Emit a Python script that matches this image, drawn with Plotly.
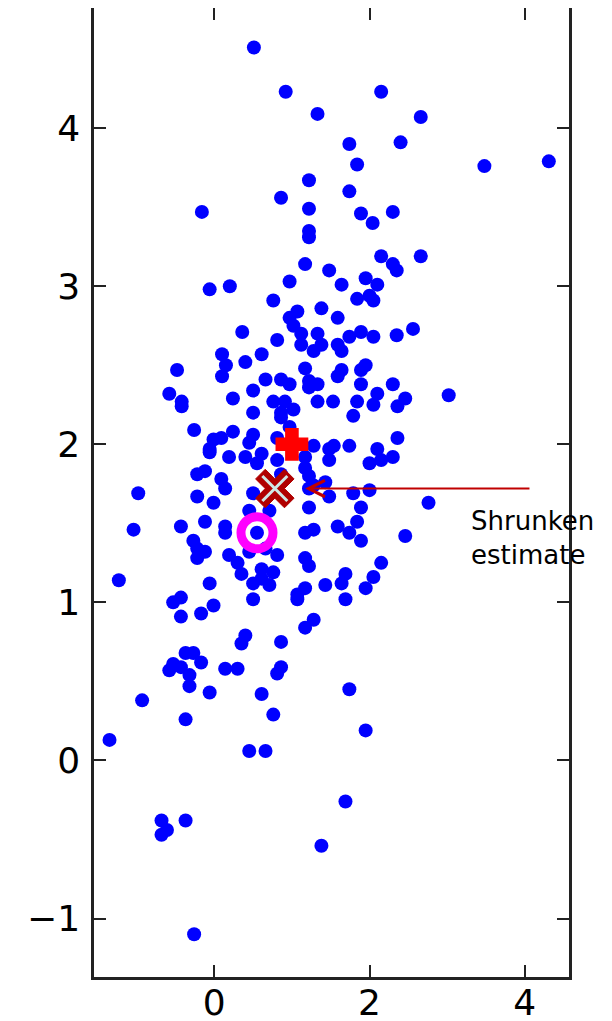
import plotly.graph_objects as go

# Sample points
pts = [
    (0.51,4.51),(0.92,4.23),(2.15,4.23),(1.33,4.09),(2.66,4.07),(1.74,3.90),(2.40,3.91),(1.84,3.77),(3.48,3.76),(4.31,3.79),
    (1.22,3.67),(1.74,3.60),(0.86,3.56),(-0.16,3.47),(1.22,3.49),(1.89,3.46),(2.30,3.47),(2.04,3.40),(1.22,3.35),(1.22,3.31),
    (2.15,3.19),(2.66,3.19),(1.17,3.14),(2.30,3.14),(2.35,3.10),(1.48,3.10),(0.97,3.03),(1.95,3.05),(1.64,3.01),(2.10,3.01),
    (-0.06,2.98),(0.20,3.00),(2.00,2.94),(1.84,2.92),(2.05,2.91),(0.76,2.91),(1.38,2.86),(1.07,2.84),(0.97,2.80),(1.59,2.80),
    (1.02,2.75),(2.56,2.73),(0.36,2.71),
    (0.81,2.66),(1.12,2.70),(1.33,2.70),(1.74,2.68),(1.89,2.71),(2.05,2.68),(2.35,2.69),(1.12,2.63),(1.38,2.63),(1.59,2.63),
    (1.28,2.59),(1.64,2.59),(0.10,2.57),(0.61,2.57),(0.15,2.50),(0.40,2.52),(1.95,2.50),(1.17,2.48),(1.64,2.47),(1.89,2.47),
    (-0.48,2.47),(0.10,2.43),(1.59,2.43),(0.66,2.41),(0.86,2.41),(0.97,2.38),(1.22,2.40),(1.33,2.38),(1.22,2.36),(1.89,2.38),
    (2.30,2.38),(0.50,2.34),(2.10,2.32),(-0.58,2.32),(3.02,2.31),(2.46,2.29),(0.24,2.29),(-0.42,2.27),(0.76,2.27),(0.91,2.27),
    (1.33,2.27),(1.53,2.27),(1.84,2.27),(2.05,2.25),(-0.42,2.24),(2.36,2.24),(1.02,2.22),(0.50,2.20),(0.86,2.20),(1.79,2.18),
    (0.86,2.17),(0.97,2.11),(-0.26,2.09),(0.24,2.08),(0.50,2.06),(-0.01,2.03),(0.09,2.04),(0.45,2.01),(0.81,2.04),(2.36,2.04),
    (1.28,1.99),(1.48,1.97),(1.54,1.99),(1.74,1.99),(2.10,1.97),(-0.06,1.97),(-0.06,1.95),(0.19,1.92),(0.40,1.92),(0.61,1.94),
    (0.55,1.88),(0.81,1.90),(1.17,1.92),(1.48,1.90),(2.00,1.88),(2.15,1.90),(2.30,1.92),(1.17,1.85),(-0.12,1.83),(-0.22,1.81),
    (0.09,1.78),(0.86,1.81),(1.22,1.80),(0.14,1.72),(1.28,1.74),(1.43,1.76),(-0.98,1.69),(-0.22,1.67),(0.50,1.69),(1.22,1.72),
    (2.00,1.71),(1.48,1.67),(1.79,1.69),
    (2.76,1.63),(-0.01,1.63),(1.22,1.60),(1.89,1.60),(0.45,1.58),(0.71,1.58),(-0.12,1.51),(1.84,1.51),(-1.04,1.46),(-0.43,1.48),
    (0.14,1.48),(0.14,1.44),(1.17,1.44),(1.28,1.46),(1.59,1.48),(1.74,1.44),(2.46,1.42),(0.55,1.44),(1.89,1.39),(-0.27,1.39),
    (-0.22,1.34),(-0.12,1.32),(0.19,1.30),(0.45,1.32),(0.81,1.30),(0.66,1.34),(1.17,1.28),(-0.22,1.28),(0.30,1.25),(2.15,1.25),
    (1.22,1.23),(0.35,1.18),(0.61,1.21),(0.76,1.19),(0.61,1.15),(1.69,1.18),(2.05,1.16),(-1.23,1.14),(-0.06,1.12),(0.50,1.12),
    (0.71,1.11),(1.43,1.11),(1.64,1.12),(1.95,1.09),(1.17,1.09),(1.07,1.05),(1.07,1.02),(-0.43,1.03),(-0.53,1.00),(-0.01,0.98),
    (0.50,1.02),(1.69,1.02),(-0.43,0.91),(-0.17,0.93),(1.28,0.89),(1.17,0.84),(0.40,0.79),(0.35,0.74),(0.86,0.75),
    (-0.37,0.68),(-0.27,0.68),(-0.53,0.61),(-0.43,0.59),(-0.17,0.62),(-0.58,0.57),(-0.32,0.54),(0.14,0.58),(0.30,0.58),(0.86,0.59),
    (0.81,0.55),(-0.32,0.47),(-0.06,0.43),(0.61,0.42),(1.74,0.45),(-0.93,0.38),(-0.37,0.26),(0.76,0.29),(1.95,0.19),(-1.35,0.13),
    (0.45,0.06),(0.66,0.06),(1.69,-0.26),(-0.68,-0.38),(-0.37,-0.38),(-0.61,-0.44),(-0.68,-0.47),(1.38,-0.54),(-0.26,-1.10),
]
data_x = [p[0] for p in pts]
data_y = [p[1] for p in pts]

true_mean = (1.0, 2.0)
shrunk_est = (0.78, 1.72)
mle_est = (0.55, 1.44)

arrow_head = (1.17, 1.72)
arrow_tail = (4.08, 1.72)
label_pos = (3.28, 1.62)
label_text = "Shrunken<br>estimate"

x_ticks = [0, 2, 4]
y_ticks = [-1, 0, 1, 2, 3, 4]

fig = go.Figure()
fig.add_trace(go.Scatter(x=data_x, y=data_y, mode="markers",
                         marker=dict(symbol="circle", size=14, color="#0000ff"),
                         showlegend=False, hoverinfo="skip"))
fig.add_trace(go.Scatter(x=[mle_est[0]], y=[mle_est[1]], mode="markers",
                         marker=dict(symbol="circle-open", size=32, color="#ff00ff",
                                     line=dict(width=9, color="#ff00ff")),
                         showlegend=False))
fig.add_trace(go.Scatter(x=[true_mean[0]], y=[true_mean[1]], mode="markers",
                         marker=dict(symbol="cross", size=24, color="#ff0000",
                                     line=dict(width=4, color="#ff0000")),
                         showlegend=False))
fig.add_trace(go.Scatter(x=[shrunk_est[0]], y=[shrunk_est[1]], mode="markers",
                         marker=dict(symbol="x", size=34, color="#b00000",
                                     line=dict(width=1, color="#b00000")),
                         showlegend=False))
fig.add_trace(go.Scatter(x=[shrunk_est[0]], y=[shrunk_est[1]], mode="markers",
                         marker=dict(symbol="x-thin-open", size=25, color="#cfe8e6",
                                     line=dict(width=3, color="#cfe8e6")),
                         showlegend=False))

fig.add_annotation(x=arrow_head[0], y=arrow_head[1], ax=arrow_tail[0], ay=arrow_tail[1],
                   xref="x", yref="y", axref="x", ayref="y", text="",
                   showarrow=True, arrowhead=5, arrowsize=1.6, arrowwidth=2,
                   arrowcolor="#c00000")
fig.add_annotation(x=label_pos[0], y=label_pos[1], xref="x", yref="y",
                   text=label_text, showarrow=False, xanchor="left", yanchor="top",
                   align="left", font=dict(family="DejaVu Sans", size=26, color="#000000"))

axis_common = dict(showgrid=False, zeroline=False, showline=True, linecolor="#222222",
                   linewidth=2.5, mirror="ticks", ticks="inside", ticklen=12,
                   tickwidth=2, tickcolor="#222222", automargin=False,
                   tickfont=dict(family="DejaVu Sans", size=36, color="#000000"))
fig.update_xaxes(range=[-1.55, 4.57], tickvals=x_ticks, ticklabelstandoff=-8, **axis_common)
fig.update_yaxes(range=[-1.37, 4.76], tickvals=y_ticks, ticklabelstandoff=4, **axis_common)

# the page body adds an 8px offset, so the figure is sized to the remaining area
fig.update_layout(width=604, height=1013, margin=dict(l=86, r=43, t=0, b=44),
                  plot_bgcolor="white", paper_bgcolor="white")
fig.write_html("out.html")
